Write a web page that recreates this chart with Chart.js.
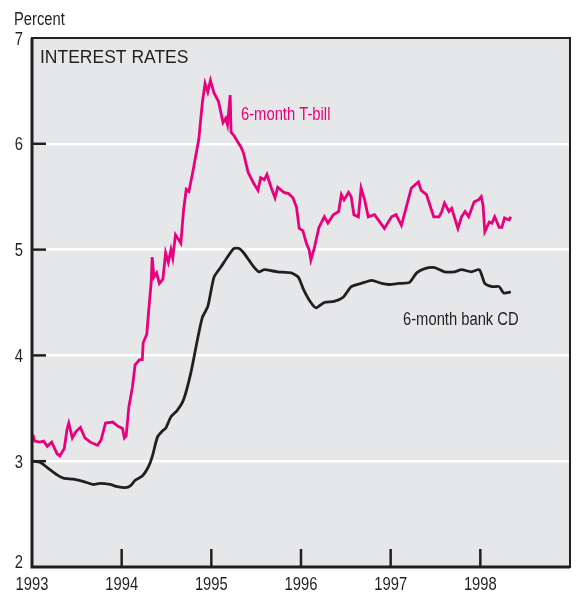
<!DOCTYPE html>
<html>
<head>
<meta charset="utf-8">
<script src="https://cdn.jsdelivr.net/npm/chart.js@4/dist/chart.umd.min.js"></script>
<style>
  html, body { margin: 0; padding: 0; background: #fff; }
  #wrap { width: 576px; height: 595px; position: relative; }
</style>
</head>
<body>
<div id="wrap"><canvas id="myChart"></canvas></div>
<script>
// dates as decimal years
const billDates = [1993.01, 1993.03, 1993.09, 1993.13, 1993.17, 1993.22, 1993.28, 1993.31, 1993.36, 1993.39,
    1993.41, 1993.45, 1993.49, 1993.54, 1993.59, 1993.65, 1993.73, 1993.77, 1993.82, 1993.90,
    1993.96, 1994.01, 1994.03, 1994.05, 1994.08, 1994.12, 1994.15, 1994.20, 1994.23, 1994.24,
    1994.28, 1994.30, 1994.33, 1994.34, 1994.36, 1994.39, 1994.42, 1994.46, 1994.49, 1994.52,
    1994.55, 1994.57, 1994.60, 1994.66, 1994.69, 1994.72, 1994.75, 1994.79, 1994.84, 1994.86,
    1994.90, 1994.93, 1994.96, 1994.99, 1995.03, 1995.08, 1995.13, 1995.16, 1995.18, 1995.21,
    1995.22, 1995.25, 1995.30, 1995.33, 1995.36, 1995.41, 1995.47, 1995.52, 1995.55, 1995.59,
    1995.62, 1995.67, 1995.71, 1995.74, 1995.81, 1995.86, 1995.91, 1995.95, 1995.98, 1996.02,
    1996.06, 1996.09, 1996.11, 1996.15, 1996.20, 1996.26, 1996.30, 1996.36, 1996.42, 1996.45,
    1996.48, 1996.53, 1996.56, 1996.59, 1996.64, 1996.67, 1996.71, 1996.75, 1996.82, 1996.93,
    1997.01, 1997.06, 1997.12, 1997.18, 1997.23, 1997.27, 1997.31, 1997.34, 1997.40, 1997.43,
    1997.48, 1997.54, 1997.57, 1997.60, 1997.65, 1997.68, 1997.71, 1997.75, 1997.79, 1997.83,
    1997.87, 1997.93, 1997.98, 1998.01, 1998.03, 1998.05, 1998.10, 1998.13, 1998.16, 1998.21,
    1998.24, 1998.27, 1998.32, 1998.34];
const billRates = [3.25, 3.19, 3.18, 3.19, 3.14, 3.18, 3.07, 3.05, 3.12, 3.30,
    3.36, 3.22, 3.28, 3.32, 3.22, 3.18, 3.15, 3.20, 3.36, 3.37,
    3.33, 3.31, 3.22, 3.24, 3.51, 3.70, 3.91, 3.96, 3.96, 4.12,
    4.20, 4.41, 4.70, 4.93, 4.74, 4.78, 4.68, 4.72, 4.97, 4.88,
    5.00, 4.92, 5.14, 5.06, 5.37, 5.57, 5.55, 5.72, 5.95, 6.04,
    6.39, 6.57, 6.49, 6.60, 6.48, 6.40, 6.20, 6.24, 6.18, 6.46,
    6.11, 6.08, 6.01, 5.97, 5.91, 5.73, 5.63, 5.56, 5.68, 5.66,
    5.71, 5.58, 5.49, 5.59, 5.54, 5.53, 5.49, 5.40, 5.20, 5.18,
    5.06, 5.00, 4.90, 5.02, 5.21, 5.31, 5.25, 5.33, 5.36, 5.52,
    5.47, 5.54, 5.50, 5.33, 5.31, 5.58, 5.47, 5.31, 5.33, 5.20,
    5.31, 5.33, 5.23, 5.42, 5.58, 5.61, 5.64, 5.56, 5.52, 5.44,
    5.31, 5.31, 5.36, 5.44, 5.36, 5.39, 5.31, 5.20, 5.31, 5.36,
    5.31, 5.45, 5.47, 5.50, 5.42, 5.17, 5.26, 5.25, 5.31, 5.21,
    5.21, 5.30, 5.28, 5.31];

const cdDates = [1993.01, 1993.09, 1993.17, 1993.28, 1993.35, 1993.46, 1993.57, 1993.68, 1993.76, 1993.87,
    1993.95, 1994.04, 1994.10, 1994.15, 1994.23, 1994.30, 1994.34, 1994.40, 1994.46, 1994.49,
    1994.55, 1994.62, 1994.69, 1994.77, 1994.85, 1994.90, 1994.96, 1995.03, 1995.11, 1995.18,
    1995.25, 1995.31, 1995.36, 1995.42, 1995.47, 1995.53, 1995.59, 1995.74, 1995.89, 1995.97,
    1996.03, 1996.11, 1996.17, 1996.26, 1996.37, 1996.47, 1996.56, 1996.67, 1996.79, 1996.90,
    1996.98, 1997.09, 1997.21, 1997.29, 1997.38, 1997.49, 1997.60, 1997.71, 1997.79, 1997.90,
    1997.99, 1998.05, 1998.13, 1998.21, 1998.26, 1998.34];
const cdRates = [3.00, 2.99, 2.94, 2.87, 2.84, 2.83, 2.81, 2.78, 2.79, 2.78,
    2.76, 2.75, 2.77, 2.82, 2.86, 2.95, 3.04, 3.23, 3.29, 3.31,
    3.42, 3.48, 3.58, 3.83, 4.17, 4.36, 4.46, 4.74, 4.84, 4.93,
    5.01, 5.01, 4.97, 4.90, 4.84, 4.79, 4.81, 4.79, 4.78, 4.74,
    4.62, 4.50, 4.45, 4.50, 4.51, 4.55, 4.65, 4.68, 4.71, 4.68,
    4.67, 4.68, 4.69, 4.78, 4.82, 4.83, 4.79, 4.79, 4.81, 4.79,
    4.81, 4.68, 4.65, 4.65, 4.59, 4.60];

const yearTicks = [1993, 1994, 1995, 1996, 1997, 1998, 1999];
const yearLabels = ['1993', '1994', '1995', '1996', '1997', '1998', ''];
const rateTicks = [2, 3, 4, 5, 6, 7];

const sans = '"Liberation Sans", Arial, sans-serif';
const ink = '#231f20';
const pink = '#e8007d';

function toPoints(xs, ys) {
    return xs.map((x, i) => ({ x: x, y: ys[i] }));
}

// condensed text: squeeze a regular face horizontally
function narrowText(ctx, text, x, y, align, color) {
    const sx = 0.82;
    ctx.save();
    ctx.font = '18px ' + sans;
    ctx.fillStyle = color;
    ctx.textAlign = align;
    ctx.textBaseline = 'alphabetic';
    ctx.translate(x, y);
    ctx.scale(sx, 1);
    ctx.fillText(text, 0, 0);
    ctx.restore();
}

const framePlugin = {
    id: 'frame',
    beforeDraw(chart) {
        const { ctx, chartArea: a } = chart;
        ctx.save();
        ctx.fillStyle = '#e6e7e9';
        ctx.fillRect(a.left, a.top, a.right - a.left, a.bottom - a.top);
        ctx.restore();
    },
    afterDraw(chart) {
        const { ctx, chartArea: a, scales } = chart;
        ctx.save();
        ctx.strokeStyle = ink;
        // frame
        ctx.lineWidth = 2;
        ctx.strokeRect(a.left, a.top, a.right - a.left, a.bottom - a.top);
        ctx.lineWidth = 3;
        ctx.beginPath();
        ctx.moveTo(a.left, a.top);
        ctx.lineTo(a.left, a.bottom);
        ctx.lineTo(a.right, a.bottom);
        ctx.stroke();
        // inner tick marks
        ctx.lineWidth = 2.5;
        rateTicks.slice(1, -1).forEach(v => {
            const y = scales.y.getPixelForValue(v);
            ctx.beginPath();
            ctx.moveTo(a.left, y);
            ctx.lineTo(a.left + 14, y);
            ctx.stroke();
        });
        yearTicks.slice(1, -1).forEach(v => {
            const x = scales.x.getPixelForValue(v);
            ctx.beginPath();
            ctx.moveTo(x, a.bottom);
            ctx.lineTo(x, a.bottom - 18);
            ctx.stroke();
        });
        ctx.restore();

        // tick labels
        rateTicks.forEach(v => {
            const y = scales.y.getPixelForValue(v);
            narrowText(ctx, String(v), a.left - 9, v === 2 ? y + 1 : y + 6.5, 'right', ink);
        });
        yearTicks.forEach((v, i) => {
            const x = scales.x.getPixelForValue(v);
            narrowText(ctx, yearLabels[i], x, a.bottom + 23, 'center', ink);
        });

        // texts
        narrowText(ctx, 'Percent', 14, 25, 'left', ink);
        narrowText(ctx, '6-month bank CD', 403, 325, 'left', ink);
        narrowText(ctx, '6-month T-bill', 241, 120, 'left', pink);
        ctx.save();
        ctx.fillStyle = ink;
        ctx.font = '17.5px ' + sans;
        ctx.textBaseline = 'alphabetic';
        ctx.fillText('INTEREST RATES', a.left + 8, a.top + 25);
        ctx.restore();
    }
};

const ctx = document.getElementById('myChart');

new Chart(ctx, {
    type: 'line',
    data: {
        datasets: [{
            label: '6-month T-bill',
            data: toPoints(billDates, billRates),
            borderColor: pink,
            borderWidth: 2.8,
            pointRadius: 0,
            tension: 0
        }, {
            label: '6-month bank CD',
            data: toPoints(cdDates, cdRates),
            borderColor: ink,
            borderWidth: 2.8,
            pointRadius: 0,
            tension: 0.2
        }]
    },
    options: {
        responsive: true,
        maintainAspectRatio: false,
        animation: false,
        layout: { padding: { top: 38, right: 6, left: 0, bottom: 0 } },
        plugins: {
            legend: { display: false },
            tooltip: { enabled: false }
        },
        scales: {
            x: {
                type: 'linear',
                min: 1993,
                max: 1999,
                afterBuildTicks: s => { s.ticks = yearTicks.map(v => ({ value: v })); },
                afterFit: s => { s.height = 28; },
                border: { display: false },
                grid: { display: false },
                ticks: { display: false }
            },
            y: {
                min: 2,
                max: 7,
                afterBuildTicks: s => { s.ticks = rateTicks.map(v => ({ value: v })); },
                afterFit: s => { s.width = 32; },
                border: { display: false },
                grid: {
                    drawTicks: false,
                    lineWidth: 2.5,
                    color: c => (c.tick && (c.tick.value === 2 || c.tick.value === 7) ? 'rgba(0,0,0,0)' : '#ffffff')
                },
                ticks: { display: false }
            }
        }
    },
    plugins: [framePlugin]
});
</script>
</body>
</html>
